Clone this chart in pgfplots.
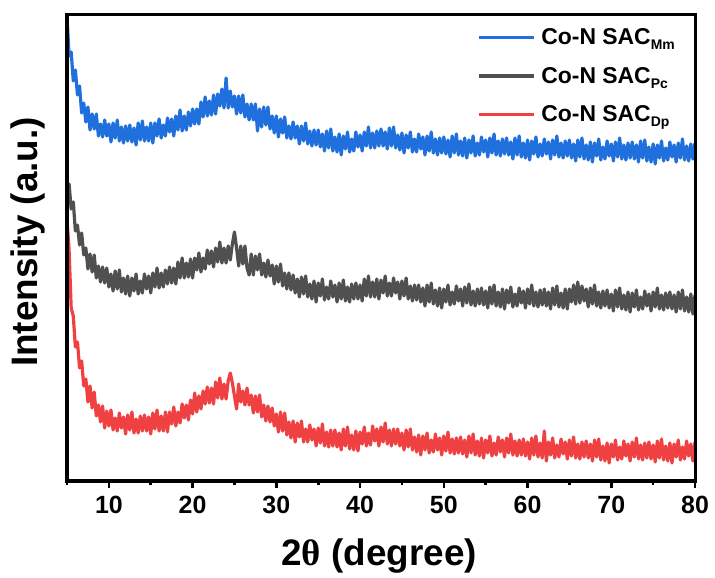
\documentclass[border=0pt]{standalone}
\usepackage{fontspec}
\setmainfont{Liberation Sans}
\newfontfamily\thetafont{Liberation Serif}
\usepackage{pgfplots}
\usepackage{pgfplotstable}
\pgfplotsset{compat=1.18}

\definecolor{cMm}{RGB}{31,111,221}
\definecolor{cPc}{RGB}{80,80,80}
\definecolor{cDp}{RGB}{239,65,65}

% XRD patterns, offset stacked: 2theta, Mm, Pc, Dp
\pgfplotstableread{
x B G R
5.00 464 293 262
5.25 425 297 231
5.50 429 272 173
5.75 400 279 165
6.00 411 250 134
6.25 386 256 139
6.50 395 236 113
6.75 368 248 120
7.00 378 226 95
7.25 359 233 102
7.50 374 212 79
7.75 351 227 95
8.00 367 209 73
8.25 352 226 89
8.50 367 203 65
8.75 345 215 76
9.00 357 199 59
9.25 344 214 75
9.50 361 198 53
9.75 345 213 70
10.00 357 194 55
10.25 339 207 71
10.50 358 190 51
10.75 343 210 63
11.00 361 192 50
11.25 340 211 68
11.50 354 189 53
11.75 338 203 64
12.00 355 187 47
12.25 340 205 66
12.50 356 185 51
12.75 339 203 69
13.00 353 190 48
13.25 336 207 62
13.50 358 187 48
13.75 341 200 65
14.00 360 188 50
14.25 340 207 66
14.50 354 192 50
14.75 340 205 64
15.00 358 188 47
15.25 338 208 68
15.50 358 194 52
15.75 345 213 71
16.00 362 193 50
16.25 343 208 65
16.50 356 194 50
16.75 345 211 69
17.00 363 197 49
17.25 349 214 69
17.50 362 198 57
17.75 345 213 74
18.00 365 197 55
18.25 351 219 69
18.50 371 203 58
18.75 350 223 77
19.00 365 203 63
19.25 351 218 76
19.50 369 204 61
19.75 355 222 81
20.00 372 203 67
20.25 357 223 88
20.50 372 211 69
20.75 357 228 85
21.00 379 209 72
21.25 364 223 90
21.50 384 212 77
21.75 365 231 94
22.00 380 217 78
22.25 366 230 93
22.50 386 214 77
22.75 367 233 99
23.00 387 219 83
23.25 375 239 103
23.50 392 218 82
23.75 373 233 97
24.00 403 218 82
24.25 373 235 100
24.50 390 221 108
24.75 374 237 98
25.00 385 249 85
25.25 367 233 72
25.50 385 215 97
25.75 368 235 79
26.00 386 217 90
26.25 364 235 76
26.50 377 213 93
26.75 361 206 76
27.00 377 227 86
27.25 361 206 68
27.50 377 225 85
27.75 350 211 69
28.00 372 227 86
28.25 354 206 64
28.50 374 218 76
28.75 356 204 60
29.00 374 221 75
29.25 352 205 59
29.50 365 216 73
29.75 348 197 55
30.00 365 215 67
30.25 344 199 49
30.50 362 217 69
30.75 348 195 50
31.00 364 208 68
31.25 343 192 46
31.50 355 208 59
31.75 342 191 43
32.00 359 206 60
32.25 343 188 39
32.50 355 202 58
32.75 337 184 44
33.00 355 204 60
33.25 340 187 39
33.50 358 205 52
33.75 337 184 39
34.00 350 197 56
34.25 335 182 41
34.50 351 200 52
34.75 336 179 35
35.00 351 198 53
35.25 334 185 38
35.50 347 202 57
35.75 330 181 35
36.00 350 194 49
36.25 333 182 34
36.50 352 200 51
36.75 330 184 35
37.00 344 196 51
37.25 329 179 34
37.50 347 198 48
37.75 326 182 31
38.00 345 201 52
38.25 332 180 35
38.50 349 194 54
38.75 329 179 32
39.00 342 197 46
39.25 330 182 31
39.50 349 198 50
39.75 334 182 30
40.00 346 196 49
40.25 330 180 37
40.50 349 202 54
40.75 335 185 35
41.00 354 205 48
41.25 333 184 36
41.50 348 199 55
41.75 333 184 40
42.00 350 202 52
42.25 335 182 35
42.50 352 201 54
42.75 335 188 39
43.00 349 205 58
43.25 332 185 37
43.50 353 198 51
43.75 335 185 35
44.00 354 203 52
44.25 333 188 37
44.50 346 199 52
44.75 331 182 35
45.00 348 200 48
45.25 328 185 31
45.50 346 203 51
45.75 333 182 34
46.00 349 195 52
46.25 329 180 31
46.50 342 196 44
46.75 329 181 29
47.00 347 196 46
47.25 332 179 26
47.50 344 193 45
47.75 326 175 31
48.00 345 196 48
48.25 330 179 28
48.50 349 198 41
48.75 328 177 29
49.00 342 191 47
49.25 326 175 31
49.50 343 193 43
49.75 328 173 26
50.00 344 192 45
50.25 327 179 30
50.50 341 196 49
50.75 324 176 28
51.00 345 189 42
51.25 328 177 27
51.50 347 195 43
51.75 326 180 28
52.00 340 192 44
52.25 325 175 27
52.50 343 194 41
52.75 323 178 24
53.00 341 197 45
53.25 328 176 28
53.50 345 190 47
53.75 325 175 26
54.00 338 192 40
54.25 326 177 25
54.50 344 193 43
54.75 329 176 23
55.00 341 190 41
55.25 324 173 28
55.50 343 194 45
55.75 328 177 25
56.00 347 196 38
56.25 326 175 26
56.50 340 189 44
56.75 325 174 29
57.00 342 192 41
57.25 327 172 24
57.50 343 191 43
57.75 326 178 28
58.00 339 194 47
58.25 322 174 26
58.50 343 187 40
58.75 326 175 25
59.00 345 193 41
59.25 324 178 26
59.50 338 190 42
59.75 323 173 25
60.00 341 192 39
60.25 321 177 22
60.50 340 196 43
60.75 327 175 26
61.00 344 189 45
61.25 324 174 24
61.50 337 191 38
61.75 325 176 23
62.00 342 192 50
62.25 327 175 20
62.50 339 189 39
62.75 322 172 26
63.00 341 193 43
63.25 326 176 23
63.50 345 195 36
63.75 324 174 24
64.00 338 188 42
64.25 323 173 27
64.50 340 192 39
64.75 325 172 22
65.00 341 192 41
65.25 323 179 25
65.50 337 196 44
65.75 320 177 23
66.00 341 199 37
66.25 324 178 22
66.50 343 195 39
66.75 322 180 24
67.00 336 192 40
67.25 321 174 23
67.50 339 193 37
67.75 319 177 20
68.00 338 196 41
68.25 325 175 24
68.50 342 189 42
68.75 321 173 21
69.00 334 190 35
69.25 322 175 20
69.50 340 191 38
69.75 325 173 18
70.00 337 187 37
70.25 320 170 24
70.50 339 191 41
70.75 324 174 21
71.00 343 193 34
71.25 322 172 22
71.50 336 186 40
71.75 321 171 25
72.00 338 189 37
72.25 323 169 20
72.50 339 188 39
72.75 322 174 24
73.00 336 191 43
73.25 319 171 22
73.50 340 184 36
73.75 323 172 21
74.00 341 190 38
74.25 320 175 23
74.50 334 187 39
74.75 319 170 22
75.00 337 189 36
75.25 317 174 19
75.50 336 193 40
75.75 323 172 23
76.00 340 186 42
76.25 320 171 21
76.50 333 188 35
76.75 321 173 20
77.00 339 189 38
77.25 324 172 18
77.50 336 186 37
77.75 319 169 24
78.00 338 189 41
78.25 323 172 21
78.50 342 191 34
78.75 321 170 22
79.00 335 184 40
79.25 320 169 25
79.50 337 187 37
79.75 322 167 20
80.00 338 186 39
}\xrd

\begin{document}
\begin{tikzpicture}
\begin{axis}[
  scale only axis,
  width=628bp, height=466bp,
  xmin=5, xmax=80, ymin=0, ymax=466,
  xtick={10,20,...,80},
  minor xtick={5,15,...,75},
  ytick=\empty,
  xtick pos=bottom,
  tick align=outside,
  major tick length=7bp,
  minor tick length=4bp,
  every tick/.style={black, line width=2.6bp},
  /pgf/number format/assume math mode=true,
  xticklabel style={font=\fontsize{25}{25}\selectfont\bfseries, anchor=base, yshift=-25bp},
  xlabel={2{\thetafont θ} (degree)},
  ylabel={Intensity (a.u.)},
  xlabel style={font=\fontsize{37}{37}\selectfont\bfseries, at={(axis description cs:0.497,-0.1803)}, anchor=base},
  ylabel style={font=\fontsize{37}{37}\selectfont\bfseries, at={(axis description cs:-0.0462,0.513)}, anchor=base},
  legend style={at={(axis description cs:0.648,0.975)}, anchor=north west, draw=none, fill=none,
    font=\fontsize{23}{23}\selectfont\bfseries, row sep=21bp, column sep=6bp,
    nodes={inner sep=0pt}},
  legend cell align=left,
  legend image code/.code={\draw[#1, line width=3.2bp, line join=round] (0bp,0bp) -- (55bp,0bp);},
]
\addplot[cMm, line width=3.2bp, line join=round] table[x=x, y=B]{\xrd};
\addlegendentry{Co-N SAC\raisebox{-5bp}{\fontsize{14}{14}\selectfont Mm}}
\addplot[cPc, line width=3.2bp, line join=round] table[x=x, y=G]{\xrd};
\addlegendentry{Co-N SAC\raisebox{-5bp}{\fontsize{14}{14}\selectfont Pc}}
\addplot[cDp, line width=3.2bp, line join=round] table[x=x, y=R]{\xrd};
\addlegendentry{Co-N SAC\raisebox{-5bp}{\fontsize{14}{14}\selectfont Dp}}
\end{axis}
% heavier frame around the plot area
\draw[black, line width=3bp] (current axis.south west) rectangle (current axis.north east);
\pgfresetboundingbox
\path[use as bounding box] ([xshift=-67bp,yshift=-97bp]current axis.south west) rectangle ([xshift=20bp,yshift=15bp]current axis.north east);
\end{tikzpicture}
\end{document}
